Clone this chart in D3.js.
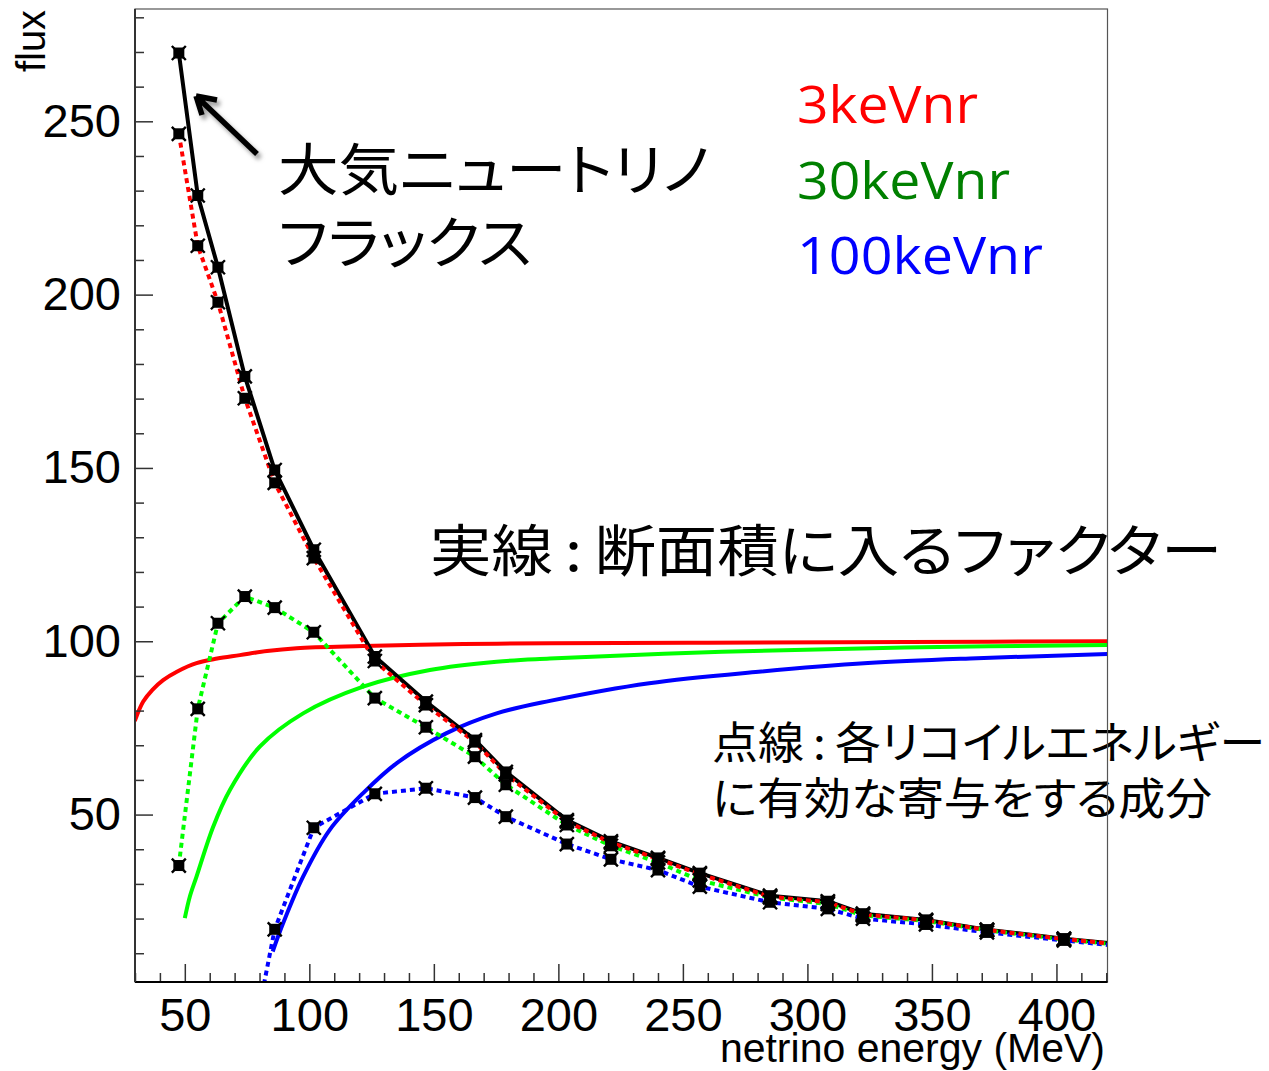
<!DOCTYPE html>
<html>
<head>
<meta charset="utf-8">
<script src="https://cdn.jsdelivr.net/npm/d3@7"></script>
<style>
  body { margin: 0; background: #fff; }
  .jp { font-family: "Noto Sans CJK JP", sans-serif; font-feature-settings: "palt"; }
  .num { font-family: "Liberation Sans", Arial, sans-serif; }
</style>
</head>
<body>
<div id="chart"></div>
<script>
// energy bins (MeV) of the flux points
var energies = [47.6, 55.2, 63.3, 74.1, 86.1, 101.8, 126.3, 146.8, 166.5, 178.9, 203.4, 221.1, 240, 256.8, 285, 308.2, 322.3, 347.6, 372.1, 403, 430];

// total atmospheric neutrino flux (black solid with markers)
var fluxTotal = [269.7, 228.6, 207.9, 176.4, 149.4, 126.4, 95.6, 82.6, 71.5, 62.3, 48.4, 42.3, 37.5, 33.1, 26.6, 25.0, 21.4, 19.6, 16.8, 14.2, 12.3];

// effective contributions (dotted)
var flux3 = [246.4, 214.1, 197.8, 170.1, 145.7, 124.0, 94.3, 81.6, 70.9, 61.6, 48.0, 41.9, 37.2, 32.8, 26.3, 24.7, 21.2, 19.5, 16.7, 14.1, 12.2];
var flux30 = [35.3, 80.5, 105.2, 112.9, 109.7, 102.6, 83.6, 75.2, 66.7, 58.6, 47.0, 41.0, 36.2, 31.0, 26.1, 24.2, 20.9, 19.3, 16.6, 14.0, 12.1];
var flux100 = [null, null, null, -27, 16.9, 46.2, 56.0, 57.6, 54.9, 49.4, 41.5, 37.1, 34.0, 29.2, 24.7, 22.8, 20.0, 18.3, 16.0, 13.7, 11.7];

// cross section factors (solid curves) [energy, factor]
var factor3 = [[29.9, 77], [33.3, 82.6], [37, 86], [41.3, 88.8], [47, 91.3], [54.7, 93.7], [63, 95], [72.1, 96], [83, 97.2], [94.9, 98], [121.6, 98.6], [161.8, 99.2], [196.6, 99.4], [260, 99.6], [340, 99.8], [420.5, 100]];
var factor30 = [[50, 20.1], [52, 26.3], [54.7, 32.1], [61.4, 46.5], [68.1, 57.1], [80.1, 69.6], [97.5, 79.2], [121.6, 86.9], [148.4, 91.7], [175.2, 94.1], [196.6, 95], [265.7, 97], [339, 98.2], [420.5, 98.9]];
var factor100 = [[85.3, 10.5], [89.5, 18.7], [97.5, 32.1], [108.2, 45.6], [121.6, 56.2], [135, 64.8], [155.1, 73.5], [175.2, 79.2], [196.6, 82.8], [236.5, 87.9], [280.4, 91.2], [324.3, 93.7], [368.1, 95.1], [420.5, 96.3]];

var xMajor = [50, 100, 150, 200, 250, 300, 350, 400];
var yMajor = [50, 100, 150, 200, 250];

var legendLabels = ["3keVnr", "30keVnr", "100keVnr"];

var width = 1269, height = 1071;

var svg = d3.select("#chart").append("svg")
    .attr("width", width)
    .attr("height", height)
    .style("background", "#fff");

var x = d3.scaleLinear().domain([30, 420.5]).range([135, 1107.5]);
var y = d3.scaleLinear().domain([1.7, 282.4]).range([982, 9]);

svg.append("clipPath").attr("id", "plot")
    .append("rect")
    .attr("x", x.range()[0]).attr("y", y.range()[1])
    .attr("width", x.range()[1] - x.range()[0])
    .attr("height", y.range()[0] - y.range()[1]);

// annotation texts (drawn below the frame, as in the original)
function jpText(str, px, py, size, len) {
    svg.append("text")
        .attr("class", "jp")
        .attr("x", px).attr("y", py)
        .attr("font-size", size)
        .attr("textLength", len)
        .attr("lengthAdjust", "spacingAndGlyphs")
        .text(str);
}
jpText("大気ニュートリノ", 278, 190, 56, 432);
jpText("フラックス", 278, 263, 56, 254);
jpText("実線\u2009:\u2009断面積に入るファクター", 430, 571, 56, 792);
jpText("点線\u2009:\u2009各リコイルエネルギー", 712, 759, 44, 553);
jpText("に有効な寄与をする成分", 712, 815, 44, 500);

var legendColors = ["#ff0000", "#008000", "#0000ff"];
var legendLen = [181, 213, 246];
svg.selectAll(".leg")
    .data(legendLabels)
    .enter().append("text")
    .attr("class", "leg")
    .attr("x", 797)
    .attr("y", function (d, i) { return 123 + i * 75.5; })
    .attr("font-family", "Open Sans, sans-serif")
    .attr("font-size", 51)
    .attr("textLength", function (d, i) { return legendLen[i]; })
    .attr("lengthAdjust", "spacingAndGlyphs")
    .attr("fill", function (d, i) { return legendColors[i]; })
    .text(function (d) { return d; });

// arrow with soft shadow
var defs = svg.append("defs");
defs.append("filter").attr("id", "blur")
    .append("feGaussianBlur").attr("stdDeviation", 2);
var arrowPath = "M257,154 L196,96 M196,96 L202,115 M196,96 L217,100";
svg.append("path").attr("d", arrowPath)
    .attr("transform", "translate(3,4)")
    .attr("stroke", "#999").attr("stroke-width", 5.5).attr("fill", "none")
    .attr("filter", "url(#blur)");
svg.append("path").attr("d", arrowPath)
    .attr("stroke", "#000").attr("stroke-width", 5.5).attr("fill", "none")
    .attr("stroke-linecap", "butt");

var plot = svg.append("g").attr("clip-path", "url(#plot)");

var curveLine = d3.line()
    .x(function (d) { return x(d[0]); })
    .y(function (d) { return y(d[1]); })
    .curve(d3.curveCatmullRom.alpha(0.5));

plot.append("path").datum(factor3).attr("d", curveLine)
    .attr("fill", "none").attr("stroke", "#ff0000").attr("stroke-width", 4);
plot.append("path").datum(factor30).attr("d", curveLine)
    .attr("fill", "none").attr("stroke", "#00ff00").attr("stroke-width", 4);
plot.append("path").datum(factor100).attr("d", curveLine)
    .attr("fill", "none").attr("stroke", "#0000ff").attr("stroke-width", 4);

function pairs(vals) {
    return energies.map(function (e, i) { return [e, vals[i]]; });
}

var pointLine = d3.line()
    .defined(function (d) { return d[1] !== null; })
    .x(function (d) { return x(d[0]); })
    .y(function (d) { return y(d[1]); });

plot.append("path").datum(pairs(fluxTotal)).attr("d", pointLine)
    .attr("fill", "none").attr("stroke", "#000").attr("stroke-width", 4);

var dotted = [[flux100, "#0000ff"], [flux30, "#00ff00"], [flux3, "#ff0000"]];
dotted.forEach(function (s) {
    plot.append("path").datum(pairs(s[0])).attr("d", pointLine)
        .attr("fill", "none").attr("stroke", s[1]).attr("stroke-width", 4)
        .attr("stroke-dasharray", "5,4");
});

// markers
var allSeries = [fluxTotal, flux3, flux30, flux100];
var pts = [];
allSeries.forEach(function (s) {
    pairs(s).forEach(function (p) {
        if (p[1] !== null && p[1] > y.domain()[0]) pts.push(p);
    });
});
var mk = plot.selectAll(".mk").data(pts).enter().append("g")
    .attr("class", "mk")
    .attr("transform", function (d) { return "translate(" + x(d[0]) + "," + y(d[1]) + ")"; });
mk.append("rect").attr("x", -5.5).attr("y", -5.5).attr("width", 11).attr("height", 11).attr("fill", "#000");
mk.append("path").attr("d", "M-7,-7L7,7M-7,7L7,-7")
    .attr("stroke", "#000").attr("stroke-width", 2.4);

// frame
svg.append("rect")
    .attr("x", x.range()[0]).attr("y", y.range()[1])
    .attr("width", x.range()[1] - x.range()[0])
    .attr("height", y.range()[0] - y.range()[1])
    .attr("fill", "none").attr("stroke", "#555").attr("stroke-width", 1.2);

// axes
var xMinor = d3.range(30, 421, 10).filter(function (v) { return xMajor.indexOf(v) < 0; });
var yMinor = d3.range(10, 282, 10).filter(function (v) { return yMajor.indexOf(v) < 0; });

var gx = svg.append("g").attr("transform", "translate(0," + y.range()[0] + ")");
gx.call(d3.axisBottom(x).tickValues(xMajor).tickSizeInner(-18).tickSizeOuter(0).tickPadding(16));
gx.append("g").call(d3.axisBottom(x).tickValues(xMinor).tickSizeInner(-9).tickSizeOuter(0).tickFormat(""));

var gy = svg.append("g").attr("transform", "translate(" + x.range()[0] + ",0)");
gy.call(d3.axisLeft(y).tickValues(yMajor).tickSizeInner(-18).tickSizeOuter(0).tickPadding(14));
gy.append("g").call(d3.axisLeft(y).tickValues(yMinor).tickSizeInner(-9).tickSizeOuter(0).tickFormat(""));

svg.selectAll(".domain").remove();
svg.selectAll(".tick line").attr("stroke", "#333").attr("stroke-width", 1.5);
svg.selectAll(".tick text")
    .attr("font-family", "Liberation Sans, Arial, sans-serif")
    .attr("font-size", 47)
    .attr("fill", "#000");

svg.append("line")
    .attr("x1", x.range()[0]).attr("x2", x.range()[1])
    .attr("y1", y.range()[0]).attr("y2", y.range()[0])
    .attr("stroke", "#000").attr("stroke-width", 2);
svg.append("line")
    .attr("x1", x.range()[0]).attr("x2", x.range()[0])
    .attr("y1", y.range()[0]).attr("y2", y.range()[1])
    .attr("stroke", "#333").attr("stroke-width", 2);

// axis titles
svg.append("text").attr("class", "num")
    .attr("x", 1105).attr("y", 1062)
    .attr("text-anchor", "end")
    .attr("font-size", 41)
    .text("netrino energy (MeV)");

svg.append("text").attr("class", "num")
    .attr("transform", "translate(45,10) rotate(-90)")
    .attr("text-anchor", "end")
    .attr("font-size", 40)
    .attr("textLength", 62)
    .attr("lengthAdjust", "spacingAndGlyphs")
    .text("flux");
</script>
</body>
</html>
